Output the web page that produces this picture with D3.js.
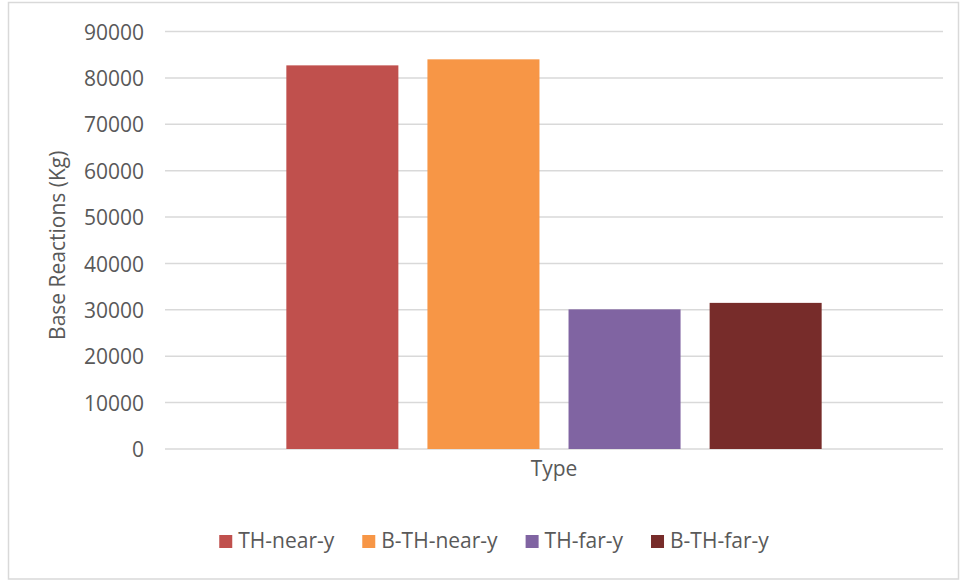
<!DOCTYPE html>
<html>
<head>
<meta charset="utf-8">
<script src="https://cdn.jsdelivr.net/npm/d3@7"></script>
<style>
  html, body { margin: 0; padding: 0; background: #fff; }
  svg { display: block; }
  text { font-family: "Open Sans", "DejaVu Sans", sans-serif; fill: #595959; }
</style>
</head>
<body>
<svg id="chart" width="965" height="584"></svg>
<script>
// ---- data ----
const categories = ["Type"];
const seriesNames = ["TH-near-y", "B-TH-near-y", "TH-far-y", "B-TH-far-y"];
const seriesValues = [82700, 84000, 30100, 31500];
const seriesColors = ["#c0504d", "#f79646", "#8064a2", "#772c2a"];
const yTicks = [0, 10000, 20000, 30000, 40000, 50000, 60000, 70000, 80000, 90000];
const yTitle = "Base Reactions (Kg)";

const svg = d3.select("#chart");
const W = 965, H = 584;
const plot = { left: 165, right: 943, top: 31.5, bottom: 449 };

// outer border
svg.append("rect")
  .attr("x", 8.5).attr("y", 2.5)
  .attr("width", 950).attr("height", 576.5)
  .attr("fill", "#fff").attr("stroke", "#d9d9d9").attr("stroke-width", 1.5);

const y = d3.scaleLinear().domain([0, 90000]).range([plot.bottom, plot.top]);
const x0 = d3.scaleBand().domain(categories).range([plot.left, plot.right]);
const x1 = d3.scaleBand().domain(seriesNames).range([0, x0.bandwidth()])
  .paddingInner(0.206).paddingOuter(0.86);

// gridlines
svg.append("g").selectAll("line").data(yTicks).join("line")
  .attr("x1", plot.left).attr("x2", plot.right)
  .attr("y1", d => y(d)).attr("y2", d => y(d))
  .attr("stroke", "#d9d9d9").attr("stroke-width", 1.5);

// y axis labels
const yAxis = d3.axisLeft(y).tickValues(yTicks).tickSize(0).tickPadding(0).tickFormat(d3.format("d"));
const gy = svg.append("g").attr("transform", `translate(144,0)`).call(yAxis);
gy.select(".domain").remove();
gy.selectAll("text").style("font-family", '"Open Sans", sans-serif')
  .style("font-size", "21px").attr("fill", "#595959").attr("dy", "0.36em");

// bars
const data = seriesNames.map((s, i) => ({ cat: categories[0], name: s, value: seriesValues[i], color: seriesColors[i] }));
svg.append("g").selectAll("rect").data(data).join("rect")
  .attr("x", d => x0(d.cat) + x1(d.name))
  .attr("width", x1.bandwidth())
  .attr("y", d => y(d.value))
  .attr("height", d => y(0) - y(d.value))
  .attr("fill", d => d.color);

// x axis (category label)
const xAxis = d3.axisBottom(x0).tickSize(0).tickPadding(0);
const gx = svg.append("g").attr("transform", `translate(0,${plot.bottom})`).call(xAxis);
gx.select(".domain").remove();
gx.selectAll("text").style("font-family", '"Open Sans", sans-serif')
  .style("font-size", "21px").attr("fill", "#595959").attr("dy", "0").attr("y", 27);

// y title
svg.append("text")
  .attr("transform", `translate(65,${(plot.top + plot.bottom) / 2 + 5}) rotate(-90)`)
  .attr("text-anchor", "middle")
  .style("font-size", "21px")
  .text(yTitle);

// legend
const legend = svg.append("g");
const items = legend.selectAll("g").data(data).join("g");
items.append("rect").attr("width", 13).attr("height", 13).attr("y", -13).attr("fill", d => d.color);
items.append("text").attr("x", 19).attr("y", 0).style("font-size", "21px").text(d => d.name);
let cx = 0;
const gap = 28;
const widths = [];
items.each(function () {
  const t = d3.select(this).select("text").node().getComputedTextLength();
  widths.push(19 + t);
});
const total = d3.sum(widths) + gap * (widths.length - 1);
let startX = 494 - total / 2;
items.attr("transform", (d, i) => {
  const xx = startX + d3.sum(widths.slice(0, i)) + gap * i;
  return `translate(${xx},${548})`;
});
</script>
</body>
</html>
